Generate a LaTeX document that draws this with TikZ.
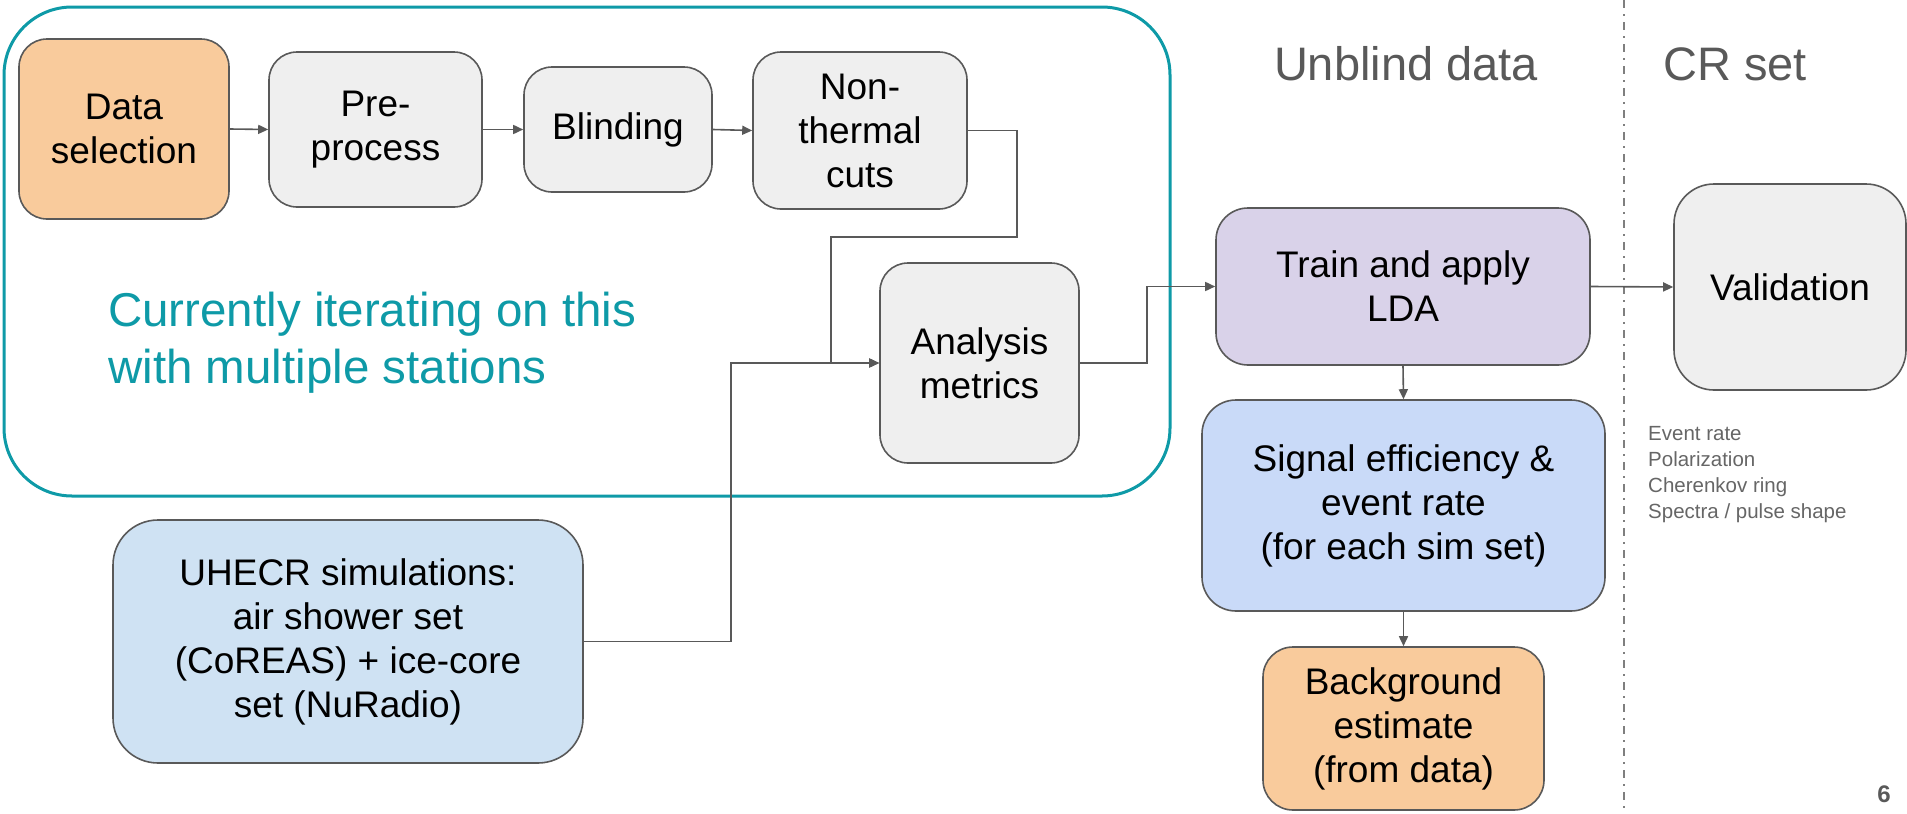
\documentclass[tikz,border=0pt]{standalone}
\usepackage{fontspec}
\setmainfont{Liberation Sans}
\usetikzlibrary{arrows.meta}
\definecolor{edgegray}{HTML}{595959}
\definecolor{titlegray}{HTML}{595959}
\definecolor{notegray}{HTML}{666666}
\definecolor{fillorange}{HTML}{F9CB9C}
\definecolor{fillgray}{HTML}{EFEFEF}
\definecolor{fillpurple}{HTML}{D9D2E9}
\definecolor{fillcorn}{HTML}{C9DAF8}
\definecolor{fillblue}{HTML}{CFE2F3}
\definecolor{teal}{HTML}{0E9AA7}
\definecolor{divider}{HTML}{7F7F7F}

\tikzset{
  stagebox/.style={draw=edgegray, line width=1.6pt, rounded corners=28pt,
    align=center, inner sep=0pt, text=black,
    font=\fontsize{37}{44}\selectfont},
  conn/.style={draw=edgegray, line width=1.6pt,
    -{Triangle[length=10pt,width=9pt]}},
  heading/.style={text=titlegray, font=\fontsize{47}{56}\selectfont, anchor=base, inner sep=0pt},
}

\begin{document}
\begin{tikzpicture}[x=1pt,y=-1pt]
\useasboundingbox (0,0) rectangle (1907,814);

% outer frame around the iterated part of the pipeline
\draw[teal, line width=3pt, rounded corners=68pt] (4,7) rectangle (1170,496);

% column divider
\draw[divider, line width=2pt, dash pattern=on 8pt off 6pt on 2pt off 6pt]
  (1624,0) -- (1624,814);

% pipeline stages
\node[stagebox, fill=fillorange, minimum width=210pt, minimum height=180pt] (ds) at (124,129) {Data\\selection};
\node[stagebox, fill=fillgray, minimum width=213pt, minimum height=155pt] (pre) at (375.5,129.5) {Pre-\\process};
\node[stagebox, fill=fillgray, minimum width=188pt, minimum height=125pt] (blind) at (618,129.5) {Blinding};
\node[stagebox, fill=fillgray, minimum width=214pt, minimum height=157pt] (ntc) at (860,130.5) {Non-\\thermal\\cuts};
\node[stagebox, fill=fillgray, minimum width=199pt, minimum height=200pt] (am) at (979.5,363) {Analysis\\metrics};
\node[stagebox, fill=fillblue, rounded corners=45pt, minimum width=470pt, minimum height=243pt] (uhecr) at (348,641.5)
  {UHECR simulations:\\air shower set\\(CoREAS) + ice-core\\set (NuRadio)};
\node[stagebox, fill=fillpurple, rounded corners=32pt, minimum width=374pt, minimum height=157pt] (train) at (1403,286.5) {Train and apply\\LDA};
\node[stagebox, fill=fillcorn, rounded corners=34pt, minimum width=403pt, minimum height=211pt] (sig) at (1403.5,505.5)
  {Signal efficiency \&\\event rate\\(for each sim set)};
\node[stagebox, fill=fillorange, rounded corners=30pt, minimum width=281pt, minimum height=163pt] (bg) at (1403.5,728.5)
  {Background\\estimate\\(from data)};
\node[stagebox, fill=fillgray, rounded corners=40pt, minimum width=232pt, minimum height=206pt] (val) at (1790,287) {Validation};

% free text (placed by the baseline of the last line)
\node[text=teal, font=\fontsize{47.5}{57}\selectfont, align=left, anchor=base west, inner sep=0pt] (iter) at (108,383)
  {Currently iterating on this\\with multiple stations};
\node[heading] (unblind) at (1406,80) {Unblind data};
\node[heading] (crset) at (1735,80) {CR set};
\node[text=notegray, font=\fontsize{20.5}{25.8}\selectfont, align=left, anchor=base west, inner sep=0pt] (checks) at (1648,518)
  {Event rate\\Polarization\\Cherenkov ring\\Spectra / pulse shape};
\node[text=titlegray, font=\fontsize{24}{28}\selectfont\bfseries, anchor=base, inner sep=0pt] (pagenum) at (1884,802) {6};

% routing points
\coordinate (j1) at (1017,237);
\coordinate (j2) at (831,237);
\coordinate (j3) at (731,363);
\coordinate (j4) at (1147,286.5);

% connectors
\draw[conn] (ds.east) -- (pre.west);
\draw[conn] (pre.east) -- (blind.west);
\draw[conn] (blind.east) -- (ntc.west);
\draw[conn] (ntc.east) -| (j1) -- (j2) |- (am.west);
\draw[conn] (uhecr.east) -| (j3) -- (am.west);
\draw[conn] (am.east) -| (j4) -- (train.west);
\draw[conn] (train.east) -- (val.west);
\draw[conn] (train.south) -- (sig.north);
\draw[conn] (sig.south) -- (bg.north);
\end{tikzpicture}
\end{document}
